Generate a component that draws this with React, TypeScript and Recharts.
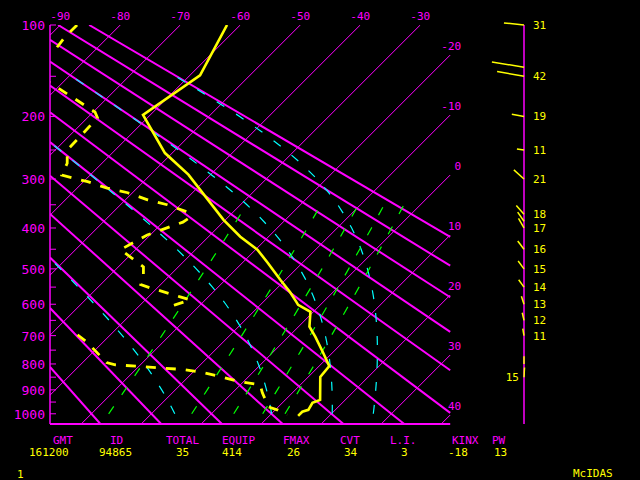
import React from 'react';
import { ComposedChart, Line, Scatter, XAxis, YAxis, ReferenceLine } from 'recharts';

// diagram geometry: y is p^kappa, isotherms skewed 45 degrees
const KAPPA = 0.286;
const P_TOP = 100;
const P_BOT = 1045;
const SKEW = 18.63; // deg C of shift per unit of p^kappa
const T_LEFT = -25.2;
const T_RIGHT = 41.5;
const T_WIND = 53.8;

const MAGENTA = '#ff00ff';
const YELLOW = '#ffff00';
const CYAN = '#00ffff';
const GREEN = '#00ff00';
const MONO = "'DejaVu Sans Mono', monospace";

// sounding, hPa / deg C
const tempLevels = [100, 149, 198, 255, 292, 382, 420, 451, 484, 530, 564, 593, 602, 623, 670, 704, 760, 808, 849, 941, 953, 983, 991, 1009];
const temps = [-62.2, -58.3, -61.2, -51.2, -43.7, -30.3, -24.7, -19.7, -15.8, -10.8, -7.2, -4.5, -3.7, -0.5, 1.8, 4.5, 8.5, 11.7, 12.0, 15.8, 15.0, 15.5, 14.8, 14.8];

const dewLevels = [100, 111, 123, 140, 157, 177, 194, 202, 216, 250, 272, 293, 305, 317, 326, 340, 350, 365, 376, 387, 416, 451, 495, 516, 543, 552, 578, 587, 602, 611, 650, 697, 724, 795, 803, 810, 821, 832, 848, 868, 880, 912, 941, 970, 983, 1004];
const dews = [-87.2, -87.2, -86.7, -90, -82.2, -75.2, -69.7, -68.3, -68.2, -68.0, -65.8, -64.7, -59.3, -55.0, -50.8, -46.3, -42.2, -37.7, -36.3, -36.7, -40.5, -42.5, -35.8, -34.5, -33.3, -31.2, -24.7, -22.5, -24.2, -25.3, null, -35.5, -32.5, -26.0, -24.2, -19.2, -12.0, -8.3, -4.7, -0.5, 3.3, 5.0, 6.7, 8.3, 10.3, 12.8];

// wind column
const windLevels = [100, 140, 150, 200, 250, 300, 370, 385, 400, 450, 500, 550, 600, 650, 700, 800, 850];
const windSpeeds = [31, 50, 42, 19, 11, 21, 18, 17, 17, 16, 15, 14, 13, 12, 11, 12, 15];
const windDirs = [276, 279, 280, 280, 278, 312, 319, 325, 330, 323, 323, 324, 342, 347, 350, 0, 3];
const windLabels = ['31', '', '42', '19', '11', '21', '18', '', '17', '16', '15', '14', '13', '12', '11', '', '15'];
const windLeftLabel = [850];

// background lines
const isotherms = [-90, -80, -70, -60, -50, -40, -30, -20, -10, 0, 10, 20, 30, 40];
const dryAdiabats = [-20, -10, 0, 10, 20, 30, 40, 50, 60, 70, 80, 90];
const moistAdiabats = [0, 30, 60, 90]; // theta-e, deg C
const mixingRatios = [1, 3, 5, 7, 9]; // g/kg
const pressureTicks = [100, 150, 200, 250, 300, 350, 400, 450, 500, 550, 600, 650, 700, 750, 800, 850, 900, 950, 1000];

// footer
const infoNames = ['GMT', 'ID', 'TOTAL', 'EQUIP', 'FMAX', 'CVT', 'L.I.', 'KINX', 'PW'];
const infoValues = ['161200', '94865', '35', '414', '26', '34', '3', '-18', '13'];
const infoNameX = [53, 110, 166, 222, 283, 340, 390, 452, 492];
const infoValueX = [29, 99, 176, 222, 287, 344, 401, 448, 494];

const zOf = (p: number) => Math.pow(p, KAPPA);
const Z_TOP = zOf(P_TOP);
const Z_BOT = zOf(P_BOT);
const Z_1000 = zOf(1000);
const skewX = (t: number, p: number) => t + SKEW * (Z_BOT - zOf(p));

// straight line x = a + b*z clipped to the skew-T box, bottom end first
function clipStraight(a: number, b: number) {
  let lo = Z_TOP;
  let hi = Z_BOT;
  const z1 = (T_LEFT - a) / b;
  const z2 = (T_RIGHT - a) / b;
  lo = Math.max(lo, Math.min(z1, z2));
  hi = Math.min(hi, Math.max(z1, z2));
  if (lo >= hi) return null;
  return [{ x: a + b * hi, z: hi }, { x: a + b * lo, z: lo }];
}

const profile = (ps: number[], ts: (number | null)[]) =>
  ps.map((p, i) => {
    const t = ts[i];
    return t == null ? { x: null, z: null } : { x: skewX(t, p), z: zOf(p) };
  });

const tempData = profile(tempLevels, temps);
const dewData = profile(dewLevels, dews);

const isoLines = isotherms.map((t) => {
  const seg = clipStraight(t + SKEW * Z_BOT, -SKEW);
  return { t, seg };
});
const isoLabelData = isoLines
  .filter((l) => l.seg)
  .map((l) => ({
    x: l.seg![1].x,
    z: l.seg![1].z,
    text: String(l.t),
    right: l.seg![1].z > Z_TOP + 1e-6,
  }));

const dryLines = dryAdiabats.map((th) =>
  clipStraight(-273.15 + SKEW * Z_BOT, (th + 273.15) / Z_1000 - SKEW)
);

const thetaE = (tk: number, p: number) => {
  const es = 6.112 * Math.exp((17.67 * (tk - 273.15)) / (tk - 29.65));
  const ws = (0.622 * es) / (p - es);
  return tk * Math.pow(1000 / p, KAPPA) * Math.exp((2.5e6 * ws) / (1004 * tk));
};

const moistLines = moistAdiabats.map((te) => {
  const target = te + 273.15;
  const pts = [];
  for (let p = 1000; p >= 150; p -= 25) {
    let lo = 150;
    let hi = 320;
    for (let k = 0; k < 50; k++) {
      const mid = (lo + hi) / 2;
      if (thetaE(mid, p) < target) lo = mid;
      else hi = mid;
    }
    pts.push({ x: skewX(lo - 273.15, p), z: zOf(p) });
  }
  return pts;
});

const mixLines = mixingRatios.map((w) => {
  const pts = [];
  for (let p = 1000; p >= 350; p -= 50) {
    const e = ((w / 1000) * p) / (0.622 + w / 1000);
    const a = Math.log(e / 6.112);
    pts.push({ x: skewX((243.5 * a) / (17.67 - a), p), z: zOf(p) });
  }
  return pts;
});

const windData = windLevels.map((p, i) => ({
  wx: 1,
  z: zOf(p),
  spd: windSpeeds[i],
  dir: windDirs[i],
  label: windLabels[i],
  left: windLeftLabel.includes(p),
}));

function PressureTick(props: any) {
  const { x, y, payload } = props;
  const p = Math.round(Math.pow(payload.value, 1 / KAPPA));
  return (
    <g>
      <line x1={x + 5} x2={x + 11} y1={y} y2={y} stroke={MAGENTA} strokeWidth={1} />
      {p % 100 === 0 && (
        <text x={x} y={y} dy={5} textAnchor="end" fill={MAGENTA} fontSize={13} fontFamily={MONO}>
          {p}
        </text>
      )}
    </g>
  );
}

function IsoLabel(props: any) {
  const { cx, cy, payload } = props;
  return (
    <text
      x={payload.right ? cx + 11 : cx}
      y={cy}
      dy={-5}
      textAnchor={payload.right ? 'end' : 'middle'}
      fill={MAGENTA}
      fontSize={11}
      fontFamily={MONO}
    >
      {payload.text}
    </text>
  );
}

function WindStick(props: any) {
  const { cx, cy, payload } = props;
  const len = payload.spd * 0.65;
  const rad = (payload.dir * Math.PI) / 180;
  return (
    <g>
      <line
        x1={cx}
        y1={cy}
        x2={cx + Math.sin(rad) * len}
        y2={cy - Math.cos(rad) * len}
        stroke={YELLOW}
        strokeWidth={1.5}
      />
      {payload.label && (
        <text
          x={payload.left ? cx - 5 : cx + 9}
          y={cy}
          dy={4}
          textAnchor={payload.left ? 'end' : 'start'}
          fill={YELLOW}
          fontSize={11}
          fontFamily={MONO}
        >
          {payload.label}
        </text>
      )}
    </g>
  );
}

export default function App() {
  return (
    <div style={{ position: 'fixed', left: 0, top: 0, width: 640, height: 480, background: '#000' }}>
      <ComposedChart width={640} height={480} margin={{ top: 25, right: 0, bottom: 56, left: 0 }}>
        <XAxis type="number" dataKey="x" domain={[T_LEFT, T_WIND]} allowDataOverflow hide />
        <XAxis xAxisId="t" type="number" dataKey="x" domain={[T_LEFT, T_WIND]} hide />
        <XAxis xAxisId="w" type="number" dataKey="wx" domain={[0, 1]} hide />
        <YAxis
          type="number"
          dataKey="z"
          domain={[Z_TOP, Z_BOT]}
          reversed
          allowDataOverflow
          width={50}
          ticks={pressureTicks.map(zOf)}
          interval={0}
          tickLine={false}
          tickSize={1}
          tickMargin={4}
          tick={<PressureTick />}
          axisLine={{ stroke: MAGENTA, strokeWidth: 1.5 }}
        />
        <YAxis
          yAxisId="w"
          orientation="right"
          type="number"
          dataKey="z"
          domain={[Z_TOP, Z_BOT]}
          reversed
          width={116}
          tick={false}
          tickLine={false}
          axisLine={{ stroke: MAGENTA, strokeWidth: 1.5 }}
        />
        <ReferenceLine
          segment={[{ x: T_LEFT, y: Z_BOT }, { x: T_RIGHT, y: Z_BOT }]}
          stroke={MAGENTA}
          strokeWidth={2}
          ifOverflow="visible"
        />
        {isoLines.map((l) =>
          l.seg ? (
            <Line key={`iso${l.t}`} data={l.seg} dataKey="z" type="linear" stroke={MAGENTA} strokeWidth={1}
              dot={false} activeDot={false} isAnimationActive={false} />
          ) : null
        )}
        {dryLines.map((seg, i) =>
          seg ? (
            <Line key={`dry${i}`} data={seg} dataKey="z" type="linear" stroke={MAGENTA} strokeWidth={2}
              dot={false} activeDot={false} isAnimationActive={false} />
          ) : null
        )}
        {moistLines.map((pts, i) => (
          <Line key={`moist${i}`} data={pts} dataKey="z" type="linear" stroke={CYAN} strokeWidth={1.2}
            strokeDasharray="9 14" dot={false} activeDot={false} isAnimationActive={false} />
        ))}
        {mixLines.map((pts, i) => (
          <Line key={`mix${i}`} data={pts} dataKey="z" type="linear" stroke={GREEN} strokeWidth={1.2}
            strokeDasharray="9 14" dot={false} activeDot={false} isAnimationActive={false} />
        ))}
        <Line data={dewData} dataKey="z" type="linear" stroke={YELLOW} strokeWidth={2.8}
          strokeDasharray="10 10" dot={false} activeDot={false} isAnimationActive={false} />
        <Line data={tempData} dataKey="z" type="linear" stroke={YELLOW} strokeWidth={2.6}
          dot={false} activeDot={false} isAnimationActive={false} />
        <Scatter xAxisId="t" yAxisId="w" data={isoLabelData} shape={<IsoLabel />} isAnimationActive={false} />
        <Scatter xAxisId="w" yAxisId="w" data={windData} shape={<WindStick />} isAnimationActive={false} />
      </ComposedChart>
      <svg width={640} height={480} style={{ position: 'absolute', left: 0, top: 0, pointerEvents: 'none' }}>
        {infoNames.map((n, i) => (
          <text key={n} x={infoNameX[i]} y={444} fill={MAGENTA} fontSize={11} fontFamily={MONO}>{n}</text>
        ))}
        {infoValues.map((v, i) => (
          <text key={`v${i}`} x={infoValueX[i]} y={456} fill={YELLOW} fontSize={11} fontFamily={MONO}>{v}</text>
        ))}
        <text x={17} y={478} fill={YELLOW} fontSize={11} fontFamily={MONO}>1</text>
        <text x={573} y={477} fill={YELLOW} fontSize={11} fontFamily={MONO}>McIDAS</text>
      </svg>
    </div>
  );
}
